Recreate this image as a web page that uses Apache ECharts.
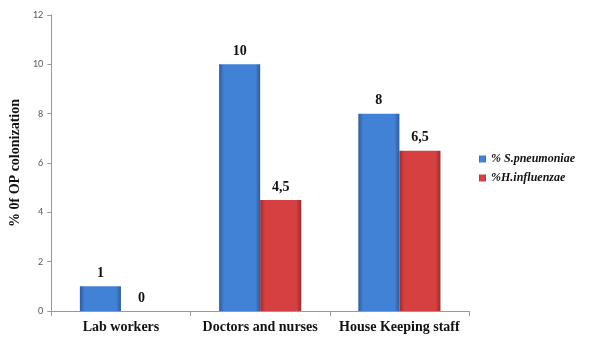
<!DOCTYPE html>
<html>
<head>
<meta charset="utf-8">
<script src="https://cdn.jsdelivr.net/npm/echarts@6/dist/echarts.min.js"></script>
<style>
  html, body { margin: 0; padding: 0; background: #ffffff; }
  #chart { width: 592px; height: 358px; }
</style>
</head>
<body>
<div id="chart"></div>
<script>
// Staff groups and colonization percentages
const categories = ['Lab workers', 'Doctors and nurses', 'House Keeping staff'];
const pneumoniae = [1, 10, 8];
const influenzae = [0, 4.5, 6.5];
const valueTicks = [0, 2, 4, 6, 8, 10, 12];

const serif = '"Liberation Serif", "Times New Roman", serif';

function bevel(edge, mid) {
  return new echarts.graphic.LinearGradient(0, 0, 1, 0, [
    { offset: 0, color: edge },
    { offset: 0.12, color: mid },
    { offset: 0.88, color: mid },
    { offset: 1, color: edge }
  ]);
}

const blueFill = bevel('#2c5d9e', '#4282d6');
const redFill = bevel('#9c2b2b', '#d64040');

const labelStyle = {
  show: true,
  position: 'top',
  distance: 6,
  fontFamily: serif,
  fontWeight: 'bold',
  fontSize: 14,
  color: '#111',
  formatter: p => String(p.value).replace('.', ',')
};

const chart = echarts.init(document.getElementById('chart'), null, { renderer: 'canvas' });
chart.setOption({
  animation: false,
  grid: { left: 51, right: 123, top: 15, bottom: 47 },
  legend: {
    orient: 'vertical',
    left: 474,
    top: 148,
    itemWidth: 7,
    itemHeight: 7,
    itemGap: 7,
    icon: 'rect',
    textStyle: {
      fontFamily: serif,
      fontWeight: 'bold',
      fontStyle: 'italic',
      fontSize: 12,
      color: '#111'
    },
    data: ['% S.pneumoniae', '%H.influenzae']
  },
  xAxis: {
    type: 'category',
    data: categories,
    axisLine: { lineStyle: { color: '#999', width: 1 } },
    axisTick: { show: true, length: 5, lineStyle: { color: '#999' } },
    axisLabel: {
      interval: 0,
      fontFamily: serif,
      fontWeight: 'bold',
      fontSize: 14,
      color: '#111',
      margin: 9
    }
  },
  yAxis: {
    type: 'value',
    min: valueTicks[0],
    max: valueTicks[valueTicks.length - 1],
    interval: 2,
    name: '% 0f OP colonization',
    nameLocation: 'middle',
    nameGap: 25,
    nameTextStyle: {
      fontFamily: serif,
      fontWeight: 'bold',
      fontSize: 14,
      color: '#111'
    },
    axisLine: { show: true, lineStyle: { color: '#999', width: 1 } },
    axisTick: { show: true, length: 4, lineStyle: { color: '#999' } },
    splitLine: { show: false },
    axisLabel: {
      fontFamily: 'Lato, "DejaVu Sans", sans-serif',
      fontSize: 9,
      color: '#555',
      margin: 8
    }
  },
  series: [
    {
      name: '% S.pneumoniae',
      type: 'bar',
      data: pneumoniae,
      barWidth: '29.5%',
      barGap: '0%',
      itemStyle: { color: blueFill },
      label: labelStyle
    },
    {
      name: '%H.influenzae',
      type: 'bar',
      data: influenzae,
      barWidth: '29.5%',
      itemStyle: { color: redFill },
      label: labelStyle
    }
  ]
});
</script>
</body>
</html>
